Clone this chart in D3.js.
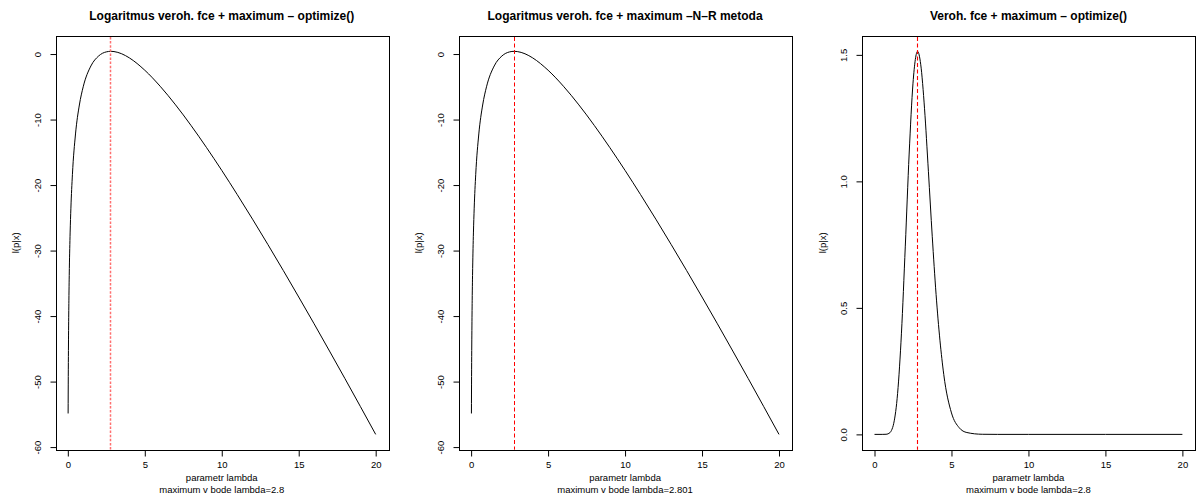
<!DOCTYPE html>
<html>
<head>
<meta charset="utf-8">
<script src="https://cdn.jsdelivr.net/npm/d3@7"></script>
<style>
  body { margin: 0; background: #fff; }
  text { font-family: "Liberation Sans", Arial, Helvetica, sans-serif; fill: #000; }
</style>
</head>
<body>
<svg id="chart" width="1198" height="499"></svg>
<script>
var lambdaLog = [0.02, 0.03, 0.04, 0.05, 0.07, 0.1, 0.15, 0.2, 0.3, 0.5, 0.75, 1, 1.5, 2, 2.5, 2.8, 3, 3.5, 4, 5, 6, 7, 8, 9, 10, 11, 12, 13, 14, 15, 16, 17, 18, 19, 20];
var logLik = [-54.87, -49.24, -45.26, -42.19, -37.58, -32.74, -27.31, -23.53, -18.36, -12.20, -7.78, -5.00, -1.82, -0.30, 0.33, 0.415, 0.38, 0.04, -0.59, -2.47, -4.92, -7.76, -10.89, -14.24, -17.76, -21.43, -25.21, -29.09, -33.05, -37.09, -41.18, -45.34, -49.53, -53.78, -58.06];

var lambdaLik = [0, 0.5, 0.75, 1, 1.1, 1.25, 1.5, 1.75, 2, 2.25, 2.5, 2.8, 3, 3.25, 3.5, 3.75, 4, 4.5, 5, 5.5, 6, 7, 8, 10, 15, 20];
var lik = [0, 0, 0.0004, 0.0067, 0.0155, 0.0439, 0.162, 0.400, 0.744, 1.108, 1.388, 1.514, 1.463, 1.287, 1.040, 0.783, 0.553, 0.236, 0.0848, 0.0264, 0.0073, 0.0004, 0, 0, 0, 0];

var titles = ["Logaritmus veroh. fce + maximum \u2013 optimize()",
              "Logaritmus veroh. fce + maximum \u2013N\u2013R metoda",
              "Veroh. fce + maximum \u2013 optimize()"];
var maxima = [2.8, 2.801, 2.8];
var maxLabels = ["2.8", "2.801", "2.8"];
var xTicks = [0, 5, 10, 15, 20];
var yTicksLog = [0, -10, -20, -30, -40, -50, -60];
var yTicksLik = [0, 0.5, 1.0, 1.5];

const svg = d3.select("#chart");
const lefts = [55.5, 458.8, 862.2], boxW = 332.5, boxTop = 36, boxBottom = 449.7;

function padded(ext) {
    var r = ext[1] - ext[0];
    return [ext[0] - 0.04 * r, ext[1] + 0.04 * r];
}

var panels = [
    { xs: lambdaLog, ys: logLik, ticks: yTicksLog, fmt: d => String(d), dash: "2.5,1.6", red: "#ff7070", redW: 1.5 },
    { xs: lambdaLog, ys: logLik, ticks: yTicksLog, fmt: d => String(d), dash: "4,2.5", red: "#ff0000", redW: 1 },
    { xs: lambdaLik, ys: lik, ticks: yTicksLik, fmt: d3.format(".1f"), dash: "4,2.5", red: "#ff0000", redW: 1.1 }
];

panels.forEach(function(p, i) {
    var left = lefts[i], right = left + boxW;
    var x = d3.scaleLinear().domain(padded([0, 20])).range([left, right]);
    var y = d3.scaleLinear().domain(padded(d3.extent(p.ys))).range([boxBottom, boxTop]);
    var g = svg.append("g");

    var pts = p.xs.map((v, k) => [v, p.ys[k]]);
    g.append("path")
        .datum(pts)
        .attr("fill", "none")
        .attr("stroke", "#000")
        .attr("stroke-width", 1)
        .attr("d", d3.line().x(d => x(d[0])).y(d => y(d[1])).curve(d3.curveMonotoneX));

    g.append("rect")
        .attr("x", Math.round(left) + 0.5).attr("y", boxTop + 0.5)
        .attr("width", Math.round(boxW)).attr("height", Math.round(boxBottom - boxTop))
        .attr("fill", "none").attr("stroke", "#000").attr("stroke-width", 1);

    // x axis
    var xa = g.append("g").attr("transform", "translate(0," + (Math.round(boxBottom) + 0.5) + ")")
        .call(d3.axisBottom(x).tickValues(xTicks).tickSize(6).tickPadding(5).tickFormat(d => String(d)));
    xa.select(".domain").attr("d", "M" + x(0) + ",0H" + x(20));
    xa.selectAll("text").style("font-size", "9.5px").style("font-family", null);

    // y axis
    var ya = g.append("g").attr("transform", "translate(" + (Math.round(left) + 0.5) + ",0)")
        .call(d3.axisLeft(y).tickValues(p.ticks).tickSize(6).tickFormat(p.fmt));
    var yr = d3.extent(p.ticks);
    ya.select(".domain").attr("d", "M0," + y(yr[0]) + "V" + y(yr[1]));
    ya.selectAll(".tick text")
        .attr("x", null).attr("dy", null)
        .attr("transform", "translate(-15.5,0) rotate(-90)")
        .attr("text-anchor", "middle")
        .style("font-size", "9.5px").style("font-family", null);

    // vertical marker at the maximum, drawn on top
    var mx = Math.floor(x(maxima[i])) + 0.5;
    svg.append("line")
        .attr("x1", mx).attr("x2", mx)
        .attr("y1", boxTop + 1).attr("y2", boxBottom)
        .style("stroke", p.red)
        .style("stroke-width", p.redW)
        .style("stroke-dasharray", p.dash);

    svg.append("text")
        .attr("x", left + boxW / 2).attr("y", 19.5)
        .attr("text-anchor", "middle")
        .style("font-size", "12px").style("font-weight", "bold")
        .text(titles[i]);

    svg.append("text")
        .attr("x", left + boxW / 2).attr("y", 480.5)
        .attr("text-anchor", "middle").style("font-size", "9.5px")
        .text("parametr lambda");
    svg.append("text")
        .attr("x", left + boxW / 2).attr("y", 493)
        .attr("text-anchor", "middle").style("font-size", "9.5px")
        .text("maximum v bode lambda=" + maxLabels[i]);

    svg.append("text")
        .attr("transform", "translate(" + (left - 36.5) + "," + ((boxTop + boxBottom) / 2) + ") rotate(-90)")
        .attr("text-anchor", "middle").style("font-size", "9.5px")
        .text("l(p|x)");
});
</script>
</body>
</html>
